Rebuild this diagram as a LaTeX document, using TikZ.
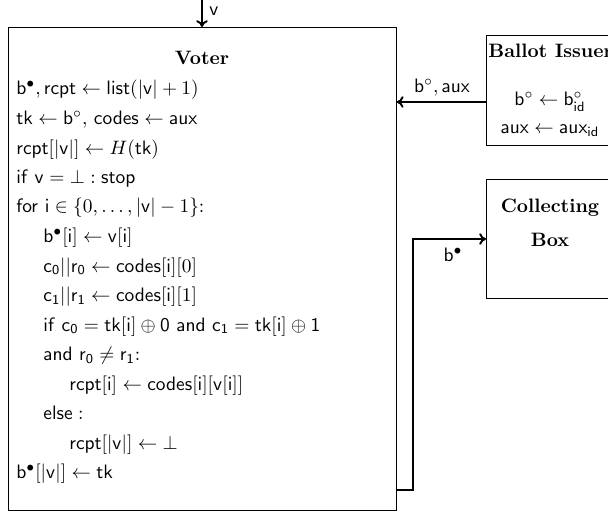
\documentclass[tikz,border=0pt]{standalone}
\usetikzlibrary{arrows.meta}
\begin{document}
\begin{tikzpicture}[x=0.515pt,y=-0.515pt,
  box/.style={draw=black,line width=0.4pt},
  flow/.style={draw=black,line width=1pt,-{To[length=3.5pt,width=6pt]}},
  codeline/.style={anchor=base west,inner sep=0pt},
  title/.style={inner sep=0pt,font=\bfseries},
  lbl/.style={inner sep=0pt}]
\useasboundingbox (0,0) rectangle (608,514);

% boxes
\node[box,anchor=north west,minimum width=388*0.515pt,minimum height=483*0.515pt,inner sep=0pt] (voter) at (8,27) {};
\node[box,anchor=north west,minimum width=130*0.515pt,minimum height=110*0.515pt,inner sep=0pt] (issuer) at (486,35) {};
\node[box,anchor=north west,minimum width=130*0.515pt,minimum height=119*0.515pt,inner sep=0pt] (collect) at (486,179) {};

% voter contents
\node[title] (vt) at (202,58) {Voter};
\node[codeline] (l1)  at (16,95.0)  {$\mathsf{b}^\bullet, \mathsf{rcpt} \leftarrow \mathsf{list}(|\mathsf{v}|+1)$};
\node[codeline] (l2)  at (16,124.5) {$\mathsf{tk} \leftarrow \mathsf{b}^\circ,\, \mathsf{codes} \leftarrow \mathsf{aux}$};
\node[codeline] (l3)  at (16,154.0) {$\mathsf{rcpt}[|\mathsf{v}|] \leftarrow H(\mathsf{tk})$};
\node[codeline] (l4)  at (16,183.5) {$\mathsf{if}\ \mathsf{v} = \bot : \mathsf{stop}$};
\node[codeline] (l5)  at (16,213.0) {$\mathsf{for}\ \mathsf{i} \in \{0, \ldots, |\mathsf{v}| - 1\}$:};
\node[codeline] (l6)  at (43,242.5) {$\mathsf{b}^\bullet[\mathsf{i}] \leftarrow \mathsf{v}[\mathsf{i}]$};
\node[codeline] (l7)  at (43,272.0) {$\mathsf{c}_\mathsf{0}||\mathsf{r}_\mathsf{0} \leftarrow \mathsf{codes}[\mathsf{i}][0]$};
\node[codeline] (l8)  at (43,301.5) {$\mathsf{c}_\mathsf{1}||\mathsf{r}_\mathsf{1} \leftarrow \mathsf{codes}[\mathsf{i}][1]$};
\node[codeline] (l9)  at (43,331.0) {$\mathsf{if}\ \mathsf{c}_\mathsf{0} = \mathsf{tk}[\mathsf{i}] \oplus \mathsf{0}\ \mathsf{and}\ \mathsf{c}_\mathsf{1} = \mathsf{tk}[\mathsf{i}] \oplus \mathsf{1}$};
\node[codeline] (l10) at (43,360.5) {$\mathsf{and}\ \mathsf{r}_\mathsf{0} \neq \mathsf{r}_\mathsf{1}$:};
\node[codeline] (l11) at (69,390.0) {$\mathsf{rcpt}[\mathsf{i}] \leftarrow \mathsf{codes}[\mathsf{i}][\mathsf{v}[\mathsf{i}]]$};
\node[codeline] (l12) at (43,419.5) {$\mathsf{else}:$};
\node[codeline] (l13) at (69,449.0) {$\mathsf{rcpt}[|\mathsf{v}|] \leftarrow \bot$};
\node[codeline] (l14) at (16,478.5) {$\mathsf{b}^\bullet[|\mathsf{v}|] \leftarrow \mathsf{tk}$};

% ballot issuer contents
\node[title,anchor=base west] (it) at (488,58) {Ballot Issuer};
\node[lbl] (i1) at (550,102) {$\mathsf{b}^\circ \leftarrow \mathsf{b}^\circ_\mathsf{id}$};
\node[lbl] (i2) at (550,131) {$\mathsf{aux} \leftarrow \mathsf{aux}_\mathsf{id}$};

% collecting box contents
\node[title] (c1) at (550,208) {Collecting};
\node[title] (c2) at (550,240) {Box};

% connectors
\coordinate (vin) at (202,0);
\draw[flow] (vin) -- (voter.north -| vin);
\node[lbl,anchor=west] (vlab) at (209,11) {$\mathsf{v}$};

\draw[flow] (issuer.west |- 0,102) -- (voter.east |- 0,102);
\node[lbl] (alab) at (442,88) {$\mathsf{b}^\circ, \mathsf{aux}$};

\coordinate (bend) at (413,490);
\draw[flow] (voter.east |- bend) -- (bend) -- (413,239) -- (collect.west |- 0,239);
\node[lbl] (blab) at (453,255) {$\mathsf{b}^\bullet$};
\end{tikzpicture}
\end{document}
